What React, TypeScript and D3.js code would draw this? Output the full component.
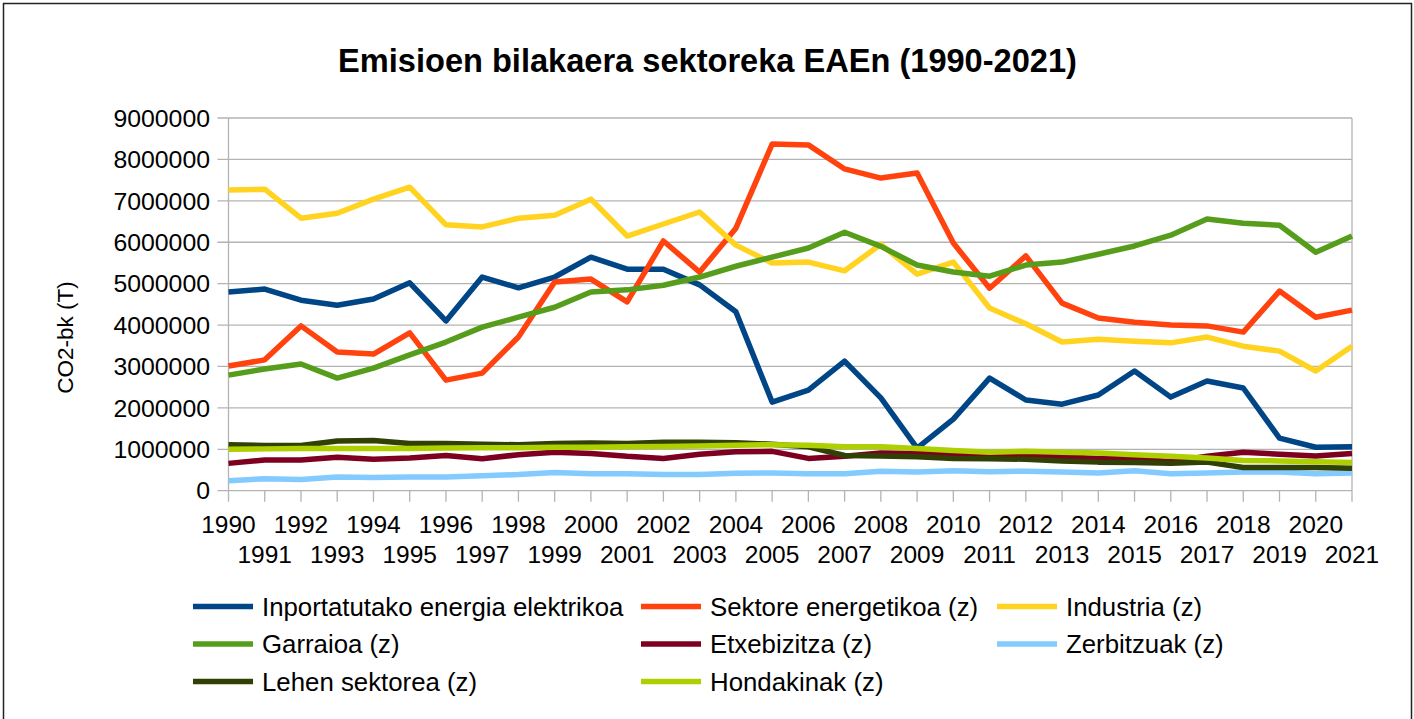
import * as d3 from "d3";

const years = d3.range(1990, 2022);

const inportatua = [4800000, 4870000, 4600000, 4480000, 4630000, 5020000, 4100000, 5160000, 4900000, 5160000, 5640000, 5350000, 5350000, 4970000, 4320000, 2140000, 2430000, 3130000, 2240000, 1030000, 1730000, 2720000, 2190000, 2090000, 2310000, 2890000, 2260000, 2650000, 2480000, 1270000, 1050000, 1060000];
const sektoreEnergetikoa = [3010000, 3160000, 3980000, 3350000, 3300000, 3810000, 2670000, 2840000, 3710000, 5040000, 5110000, 4560000, 6030000, 5280000, 6340000, 8370000, 8350000, 7770000, 7550000, 7670000, 5980000, 4890000, 5670000, 4530000, 4170000, 4070000, 4000000, 3980000, 3830000, 4820000, 4190000, 4360000];
const industria = [7260000, 7280000, 6580000, 6700000, 7040000, 7330000, 6420000, 6370000, 6580000, 6650000, 7040000, 6150000, 6440000, 6730000, 5930000, 5500000, 5520000, 5310000, 5950000, 5230000, 5520000, 4410000, 4030000, 3590000, 3660000, 3610000, 3570000, 3710000, 3490000, 3370000, 2890000, 3490000];
const garraioa = [2790000, 2940000, 3060000, 2720000, 2960000, 3280000, 3590000, 3950000, 4190000, 4430000, 4800000, 4850000, 4960000, 5160000, 5420000, 5640000, 5860000, 6240000, 5900000, 5450000, 5280000, 5180000, 5450000, 5520000, 5710000, 5910000, 6170000, 6560000, 6460000, 6410000, 5760000, 6150000];
const etxebizitza = [660000, 740000, 740000, 810000, 760000, 790000, 850000, 770000, 870000, 930000, 900000, 830000, 780000, 880000, 940000, 950000, 780000, 830000, 910000, 900000, 880000, 830000, 860000, 820000, 780000, 780000, 700000, 830000, 930000, 880000, 840000, 900000];
const zerbitzuak = [240000, 290000, 270000, 330000, 320000, 330000, 330000, 360000, 390000, 440000, 410000, 410000, 390000, 390000, 420000, 430000, 410000, 410000, 470000, 450000, 480000, 460000, 470000, 450000, 430000, 480000, 410000, 430000, 450000, 450000, 410000, 430000];
const lehenSektorea = [1110000, 1090000, 1090000, 1200000, 1210000, 1140000, 1140000, 1120000, 1110000, 1140000, 1150000, 1140000, 1170000, 1170000, 1160000, 1120000, 1060000, 850000, 840000, 820000, 780000, 770000, 760000, 720000, 690000, 680000, 660000, 690000, 560000, 560000, 560000, 540000];
const hondakinak = [1000000, 1010000, 1020000, 1020000, 1020000, 1020000, 1030000, 1040000, 1040000, 1050000, 1050000, 1060000, 1070000, 1080000, 1100000, 1110000, 1100000, 1060000, 1060000, 1020000, 970000, 930000, 950000, 930000, 910000, 870000, 830000, 790000, 730000, 720000, 700000, 680000];

const seriesNames = [
  "Inportatutako energia elektrikoa",
  "Sektore energetikoa (z)",
  "Industria (z)",
  "Garraioa (z)",
  "Etxebizitza (z)",
  "Zerbitzuak (z)",
  "Lehen sektorea (z)",
  "Hondakinak (z)",
];
const seriesValues = [inportatua, sektoreEnergetikoa, industria, garraioa, etxebizitza, zerbitzuak, lehenSektorea, hondakinak];
const seriesColors = ["#004586", "#ff420e", "#ffd320", "#579d1c", "#7e0021", "#83caff", "#314004", "#aecf00"];

const yTicks = d3.range(0, 9000001, 1000000);

const width = 1414;
const height = 719;
const marginLeft = 228.5;
const marginRight = 62;
const marginTop = 118;
const marginBottom = 228.3;

const font = "'Liberation Sans', Arial, sans-serif";

export default function App() {
  const x = d3
    .scaleLinear()
    .domain([1990, 2021])
    .range([marginLeft, width - marginRight]);

  const y = d3
    .scaleLinear()
    .domain([0, 9000000])
    .range([height - marginBottom, marginTop]);

  const line = d3
    .line<number>()
    .x((_, i) => x(years[i]))
    .y((d) => y(d));

  const y0 = y(0);

  // legend: 3 columns, 3 rows
  const legendCols = [193, 641, 997];
  const legendRows = [606.5, 644, 681.5];

  return (
    <svg
      width={width}
      height={height}
      style={{ position: "absolute", left: 0, top: 0, background: "#fff" }}
      fontFamily={font}
    >
      <rect x={3.5} y={3.5} width={1408} height={730} fill="#fff" stroke="#222" strokeWidth={1.5} />

      <text x={707.5} y={72} textAnchor="middle" fontSize={32.6} fontWeight="bold" fill="#000">
        Emisioen bilakaera sektoreka EAEn (1990-2021)
      </text>

      {/* grid + y axis */}
      {yTicks.map((t) => (
        <g key={t}>
          <line x1={marginLeft - 11} x2={x(2021)} y1={y(t)} y2={y(t)} stroke="#b3b3b3" strokeWidth={1.3} />
          <text x={210} y={y(t)} dy="0.35em" textAnchor="end" fontSize={24.8} fill="#000">
            {t}
          </text>
        </g>
      ))}
      <line x1={marginLeft} x2={marginLeft} y1={marginTop} y2={y0} stroke="#b3b3b3" strokeWidth={1.3} />
      <line x1={x(2021)} x2={x(2021)} y1={marginTop} y2={y0} stroke="#b3b3b3" strokeWidth={1.3} />

      {/* x axis */}
      {years.map((yr, i) => (
        <g key={yr}>
          <line x1={x(yr)} x2={x(yr)} y1={y0} y2={y0 + 11} stroke="#b3b3b3" strokeWidth={1.3} />
          <text x={x(yr)} y={i % 2 === 0 ? 533 : 563} textAnchor="middle" fontSize={24.5} fill="#000">
            {yr}
          </text>
        </g>
      ))}

      <text
        transform={`translate(73,337.5) rotate(-90)`}
        textAnchor="middle"
        fontSize={22.5}
        fill="#000"
      >
        CO2-bk (T)
      </text>

      {seriesValues.map((vals, i) => (
        <path
          key={seriesNames[i]}
          d={line(vals) || ""}
          fill="none"
          stroke={seriesColors[i]}
          strokeWidth={5.5}
          strokeLinejoin="round"
        />
      ))}

      {seriesNames.map((name, i) => {
        const cx = legendCols[i % 3];
        const cy = legendRows[Math.floor(i / 3)];
        return (
          <g key={name}>
            <line x1={cx} x2={cx + 60} y1={cy} y2={cy} stroke={seriesColors[i]} strokeWidth={5.5} />
            <text x={cx + 69} y={cy} dy="0.35em" fontSize={25.8} fill="#000">
              {name}
            </text>
          </g>
        );
      })}
    </svg>
  );
}
